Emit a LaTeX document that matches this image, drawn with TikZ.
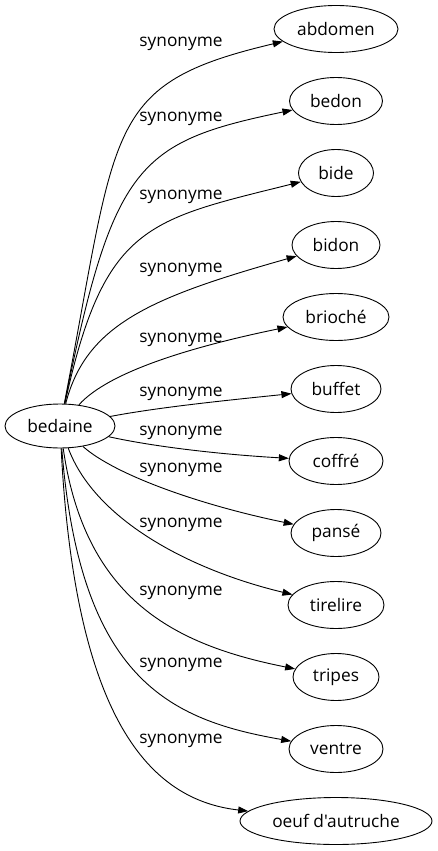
\documentclass[tikz,border=0pt]{standalone}
\usepackage{fontspec}
\setmainfont{Open Sans}[Ligatures=TeXOff]
\usetikzlibrary{shapes.geometric,arrows.meta}
\begin{document}
\begin{tikzpicture}[x=1pt,y=-1pt,
  ent/.style={ellipse,draw,line width=0.9pt,inner sep=0pt,minimum height=47pt,font=\fontsize{17.3}{20}\selectfont},
  lbl/.style={inner sep=0pt,font=\fontsize{17.3}{20}\selectfont},
  syn/.style={line width=0.9pt,-{Triangle[length=10pt,width=7pt]}}]
\useasboundingbox (0,0) rectangle (437,851);
\node[ent,minimum width=110pt,minimum height=44pt] (bedaine) at (60,426) {bedaine};
\node[ent,minimum width=124pt] (abdomen) at (336,29) {abdomen};
\node[ent,minimum width=93pt] (bedon) at (336,101) {bedon};
\node[ent,minimum width=75pt] (bide) at (336,173) {bide};
\node[ent,minimum width=88pt] (bidon) at (336,245) {bidon};
\node[ent,minimum width=106pt] (brioche) at (336,317) {brioché};
\node[ent,minimum width=90pt] (buffet) at (336,389) {buffet};
\node[ent,minimum width=94pt] (coffre) at (336,461) {coffré};
\node[ent,minimum width=90pt] (panse) at (336,533) {pansé};
\node[ent,minimum width=96pt] (tirelire) at (336,605) {tirelire};
\node[ent,minimum width=86pt] (tripes) at (336,677) {tripes};
\node[ent,minimum width=94pt] (ventre) at (336,749) {ventre};
\node[ent,minimum width=192pt] (oeuf) at (336,821) {oeuf d'autruche};
\node[lbl] (l1) at (181,44) {synonyme};
\node[lbl] (l2) at (181,119) {synonyme};
\node[lbl] (l3) at (181,197) {synonyme};
\node[lbl] (l4) at (181,270) {synonyme};
\node[lbl] (l5) at (181,340) {synonyme};
\node[lbl] (l6) at (181,394) {synonyme};
\node[lbl] (l7) at (181,433) {synonyme};
\node[lbl] (l8) at (181,470) {synonyme};
\node[lbl] (l9) at (181,525) {synonyme};
\node[lbl] (l10) at (181,593) {synonyme};
\node[lbl] (l11) at (181,665) {synonyme};
\node[lbl] (l12) at (181,741) {synonyme};
\draw[syn] (bedaine) .. controls (118,125) and (103,84) .. (abdomen);
\draw[syn] (bedaine) .. controls (113,164) and (138,142) .. (bedon);
\draw[syn] (bedaine) .. controls (104,224) and (148,220) .. (bide);
\draw[syn] (bedaine) .. controls (86,324) and (152,297) .. (bidon);
\draw[syn] (bedaine) .. controls (110,370) and (200,345) .. (brioche);
\draw[syn] (bedaine) .. controls (160,407) and (230,400) .. (buffet);
\draw[syn] (bedaine) .. controls (160,448) and (230,455) .. (coffre);
\draw[syn] (bedaine) .. controls (115,475) and (200,505) .. (panse);
\draw[syn] (bedaine) .. controls (95,520) and (190,570) .. (tirelire);
\draw[syn] (bedaine) .. controls (85,600) and (175,645) .. (tripes);
\draw[syn] (bedaine) .. controls (80,680) and (170,720) .. (ventre);
\draw[syn] (bedaine) .. controls (75,720) and (150,800) .. (oeuf);
\end{tikzpicture}
\end{document}
